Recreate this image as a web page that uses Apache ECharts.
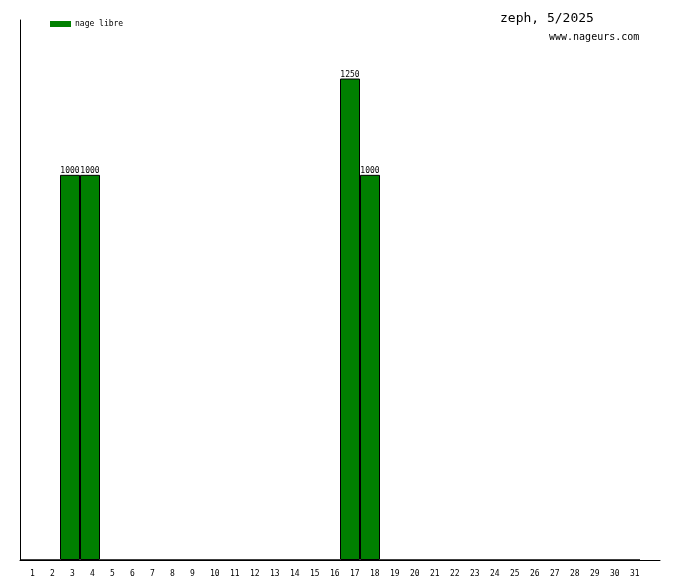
<!DOCTYPE html>
<html><head><meta charset="utf-8">
<script src="https://cdn.jsdelivr.net/npm/echarts@6/dist/echarts.min.js"></script>
<style>html,body{margin:0;padding:0;background:#fff}#c{width:680px;height:580px}</style>
</head><body><div id="c"></div>
<script>
const days = ['1','2','3','4','5','6','7','8','9','10','11','12','13','14','15','16','17','18','19','20','21','22','23','24','25','26','27','28','29','30','31'];
const nageLibre = [0,0,1000,1000,0,0,0,0,0,0,0,0,0,0,0,0,1250,1000,0,0,0,0,0,0,0,0,0,0,0,0,0];
const seriesName = 'nage libre';
const titleText = 'zeph, 5/2025';
const subText = 'www.nageurs.com';

const chart = echarts.init(document.getElementById('c'), null, {renderer:'canvas'});
chart.setOption({
  animation:false,
  backgroundColor:'#fff',
  title:[
    {text:titleText, left:495, top:7, textStyle:{fontFamily:'DejaVu Sans Mono', fontSize:13, fontWeight:'normal', color:'#000'}},
    {text:subText, left:544, top:27, textStyle:{fontFamily:'DejaVu Sans Mono', fontSize:10, fontWeight:'normal', color:'#000'}}
  ],
  legend:{left:50, top:20, padding:0, itemWidth:21, itemHeight:6, itemGap:4, icon:'rect',
    itemStyle:{borderWidth:0},
    textStyle:{fontFamily:'DejaVu Sans Mono', fontSize:8, color:'#000', padding:[0,0,0,-1]}, data:[seriesName]},
  grid:[
    {left:20, right:40, top:20, bottom:20, containLabel:false},
    {left:20, right:20, top:20, bottom:20, containLabel:false}
  ],
  xAxis:[
    {type:'category', gridIndex:0, data:days, boundaryGap:true,
      axisLine:{show:false}, axisTick:{show:false},
      axisLabel:{interval:0, align:'left', margin:10, fontFamily:'DejaVu Sans Mono', fontSize:8, color:'#000'}},
    {type:'value', gridIndex:1, min:0, max:1, show:true,
      axisLine:{show:true, lineStyle:{color:'#000', width:1}}, axisTick:{show:false}, axisLabel:{show:false}, splitLine:{show:false}}
  ],
  yAxis:[
    {type:'value', gridIndex:0, min:0, max:1402, show:true,
      axisLine:{show:true, lineStyle:{color:'#000', width:1}}, axisTick:{show:false}, axisLabel:{show:false}, splitLine:{show:false}},
    {type:'value', gridIndex:1, min:0, max:1, show:false}
  ],
  series:[{name:seriesName, type:'bar', xAxisIndex:0, yAxisIndex:0, data:nageLibre, barWidth:'100%', barCategoryGap:'0%',
    itemStyle:{color:'#008000', borderColor:'#000', borderWidth:1},
    label:{show:true, position:'top', distance:0, fontFamily:'DejaVu Sans Mono', fontSize:8, color:'#000',
      formatter:p=>p.value>0?String(p.value):''}}]
});
</script></body></html>
